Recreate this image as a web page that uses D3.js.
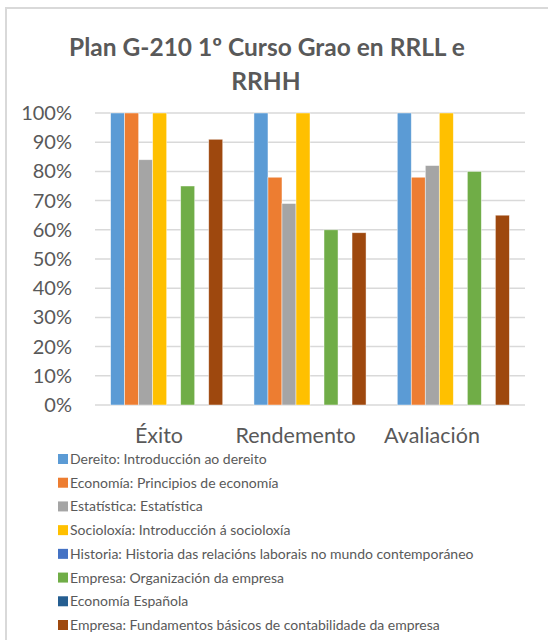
<!DOCTYPE html>
<html>
<head>
<meta charset="utf-8">
<script src="https://cdn.jsdelivr.net/npm/d3@7"></script>
<style>
  body { margin: 0; background: #fff; }
  text { font-family: Lato, "Open Sans", sans-serif; fill: #595959; }
</style>
</head>
<body>
<div id="canvas"></div>
<script>
"use strict"

// categories on the x axis
let categories = ["Éxito", "Rendemento", "Avaliación"];

// one entry per subject (legend order)
let seriesNames = [
    "Dereito: Introducción ao dereito",
    "Economía: Principios de economía",
    "Estatística: Estatística",
    "Socioloxía: Introducción á socioloxía",
    "Historia: Historia das relacións laborais no mundo contemporáneo",
    "Empresa: Organización da empresa",
    "Economía Española",
    "Empresa: Fundamentos básicos de contabilidade da empresa"
];

let seriesColors = ["#5B9BD5", "#ED7D31", "#A5A5A5", "#FFC000",
                    "#4472C4", "#70AD47", "#255E91", "#9E480E"];

// values per series, in the order of categories (null = no data)
let dereito    = [1.00, 1.00, 1.00];
let economia   = [1.00, 0.78, 0.78];
let estatistica = [0.84, 0.69, 0.82];
let socioloxia = [1.00, 1.00, 1.00];
let historia   = [null, null, null];
let organizacion = [0.75, 0.60, 0.80];
let econEsp    = [null, null, null];
let contabilidade = [0.91, 0.59, 0.65];

let seriesValues = [dereito, economia, estatistica, socioloxia,
                    historia, organizacion, econEsp, contabilidade];

let yTicks = [0, 0.1, 0.2, 0.3, 0.4, 0.5, 0.6, 0.7, 0.8, 0.9, 1.0];

let width = 548;
let height = 640;

let drawing = d3.select("#canvas")
    .append("svg")
    .attr("width", width)
    .attr("height", height);

// chart frame
drawing.append("rect")
    .attr("x", 6)
    .attr("y", 8)
    .attr("width", 560)
    .attr("height", 660)
    .attr("fill", "white")
    .attr("stroke", "#d9d9d9")
    .attr("stroke-width", 2);

// title
let title = drawing.append("text")
    .attr("text-anchor", "middle")
    .attr("font-size", 24.5)
    .attr("font-weight", "bold");
title.append("tspan").attr("x", 267).attr("y", 56).text("Plan G-210 1º Curso Grao en RRLL e");
title.append("tspan").attr("x", 266).attr("y", 90).text("RRHH");

let plotLeft = 95, plotRight = 525, plotTop = 113, plotBottom = 405;

let x = d3.scaleBand()
    .domain(categories)
    .range([plotLeft, plotRight])
    .paddingInner(0.218)
    .paddingOuter(0.109);

let xInner = d3.scaleBand()
    .domain(d3.range(seriesNames.length))
    .range([0, x.bandwidth()]);

let y = d3.scaleLinear()
    .domain([0, 1])
    .range([plotBottom, plotTop]);

// gridlines
drawing.append("g")
    .selectAll("line")
    .data(yTicks)
    .join("line")
    .attr("x1", plotLeft)
    .attr("x2", plotRight)
    .attr("y1", d => y(d))
    .attr("y2", d => y(d))
    .attr("stroke", "#d9d9d9")
    .attr("stroke-width", 1.5);

// y axis labels
let yAxis = drawing.append("g")
    .attr("transform", "translate(72,0)")
    .call(d3.axisLeft(y).tickValues(yTicks).tickFormat(d3.format(".0%")).tickSize(0).tickPadding(0));
yAxis.select(".domain").remove();
yAxis.selectAll("text")
    .attr("font-size", 20)
    .style("font-family", "Lato, sans-serif")
    .attr("fill", "#595959");

// bars
seriesValues.forEach(function (vals, i) {
    drawing.append("g")
        .selectAll("rect")
        .data(vals.map((v, j) => ({ cat: categories[j], v: v })).filter(d => d.v !== null))
        .join("rect")
        .attr("x", d => x(d.cat) + xInner(i))
        .attr("y", d => y(d.v))
        .attr("width", xInner.bandwidth())
        .attr("height", d => y(0) - y(d.v))
        .attr("fill", seriesColors[i])
        .attr("stroke", "white")
        .attr("stroke-opacity", 0.6)
        .attr("stroke-width", 0.75);
});

// category labels (Excel draws them a little narrower than the bands)
let xLabel = d3.scalePoint()
    .domain(categories)
    .range([159, 432]);

drawing.append("g")
    .selectAll("text")
    .data(categories)
    .join("text")
    .attr("x", d => xLabel(d))
    .attr("y", 443)
    .attr("text-anchor", "middle")
    .attr("font-size", 21.5)
    .text(d => d);

// legend
let legendY = d3.scaleLinear()
    .domain([0, seriesNames.length - 1])
    .range([459, 625]);

let legend = drawing.append("g")
    .selectAll("g")
    .data(seriesNames)
    .join("g")
    .attr("transform", (d, i) => "translate(58," + legendY(i) + ")");

legend.append("rect")
    .attr("x", 0)
    .attr("y", -5)
    .attr("width", 10)
    .attr("height", 10)
    .attr("fill", (d, i) => seriesColors[i]);

legend.append("text")
    .attr("x", 12)
    .attr("y", 5)
    .attr("font-size", 14)
    .text(d => d);
</script>
</body>
</html>
